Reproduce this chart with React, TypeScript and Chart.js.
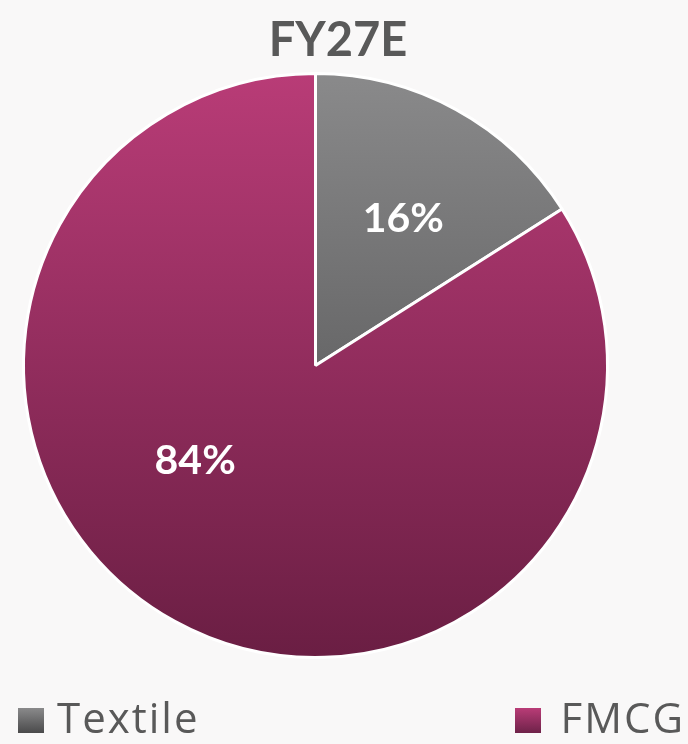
import React, { useEffect, useRef } from "react";
import { Chart, registerables } from "chart.js";

Chart.register(...registerables);

const title = "FY27E";
const categories = ["Textile", "FMCG"];
const shares = [16, 84];
const pctLabels = ["16%", "84%"];
// gradient stops per slice
const sliceTop = ["#8a8a8b", "#b93c77"];
const sliceBottom = ["#454546", "#6a1e43"];
const legendMarkTop = ["#8a8a8b", "#b93c77"];
const legendMarkBottom = ["#4a4a4b", "#6e2249"];
// label placement relative to slice geometry: [angle shift (rad), radius fraction]
const labelPlace: [number, number][] = [
  [0.037, 0.585],
  [0.4, 0.525],
];

const labelPlugin = {
  id: "pctLabels",
  afterDatasetsDraw(chart: any) {
    const meta = chart.getDatasetMeta(0);
    const ctx = chart.ctx;
    ctx.save();
    ctx.fillStyle = "#ffffff";
    ctx.font = "bold 41px Lato, 'Open Sans', sans-serif";
    ctx.textAlign = "center";
    ctx.textBaseline = "middle";
    meta.data.forEach((arc: any, i: number) => {
      const p = arc.getProps(["x", "y", "startAngle", "endAngle", "outerRadius"], true);
      const mid = (p.startAngle + p.endAngle) / 2 + labelPlace[i][0];
      const r = p.outerRadius * labelPlace[i][1];
      ctx.fillText(pctLabels[i], p.x + Math.cos(mid) * r, p.y + Math.sin(mid) * r);
    });
    ctx.restore();
  },
};

export default function App() {
  const ref = useRef<HTMLCanvasElement>(null);

  useEffect(() => {
    document.body.style.margin = "0";
    document.body.style.background = "#f9f8f8";
    const canvas = ref.current!;
    const chart = new Chart(canvas, {
      type: "pie",
      data: {
        labels: categories,
        datasets: [
          {
            data: shares,
            backgroundColor: (c: any) => {
              const area = c.chart.chartArea;
              if (!area) return sliceTop[c.dataIndex];
              const g = c.chart.ctx.createLinearGradient(0, area.top, 0, area.bottom);
              g.addColorStop(0, sliceTop[c.dataIndex]);
              g.addColorStop(1, sliceBottom[c.dataIndex]);
              return g;
            },
            borderColor: "#ffffff",
            borderWidth: 3,
            hoverOffset: 0,
          },
        ],
      },
      options: {
        animation: false,
        responsive: false,
        rotation: 0,
        layout: { padding: { left: 22, right: 79, top: 72, bottom: 85 } },
        plugins: {
          legend: { display: false },
          title: { display: false },
          tooltip: { enabled: false },
        },
      },
      plugins: [labelPlugin],
    });
    return () => chart.destroy();
  }, []);

  const legendFont = "'Open Sans', Lato, sans-serif";

  return (
    <div style={{ position: "relative", width: 688, height: 744, background: "#f9f8f8", overflow: "hidden" }}>
      <canvas ref={ref} width={688} height={744} style={{ position: "absolute", left: 0, top: 0 }} />
      <div
        style={{
          position: "absolute",
          left: 0,
          width: 676,
          top: 8,
          textAlign: "center",
          font: "bold 47px Lato, 'Open Sans', sans-serif",
          color: "#595959",
          lineHeight: "60px",
        }}
      >
        {title}
      </div>
      {categories.map((c, i) => (
        <React.Fragment key={c}>
          <span
            style={{
              position: "absolute",
              left: i === 0 ? 18 : 515,
              top: 708,
              width: 26,
              height: 25,
              background: `linear-gradient(${legendMarkTop[i]}, ${legendMarkBottom[i]})`,
            }}
          />
          <span
            style={{
              position: "absolute",
              left: i === 0 ? 57 : undefined,
              right: i === 1 ? 3 : undefined,
              top: 696,
              font: `42px ${legendFont}`,
              lineHeight: "42px",
              letterSpacing: 2,
              color: "#595959",
              whiteSpace: "nowrap",
            }}
          >
            {c}
          </span>
        </React.Fragment>
      ))}
    </div>
  );
}
